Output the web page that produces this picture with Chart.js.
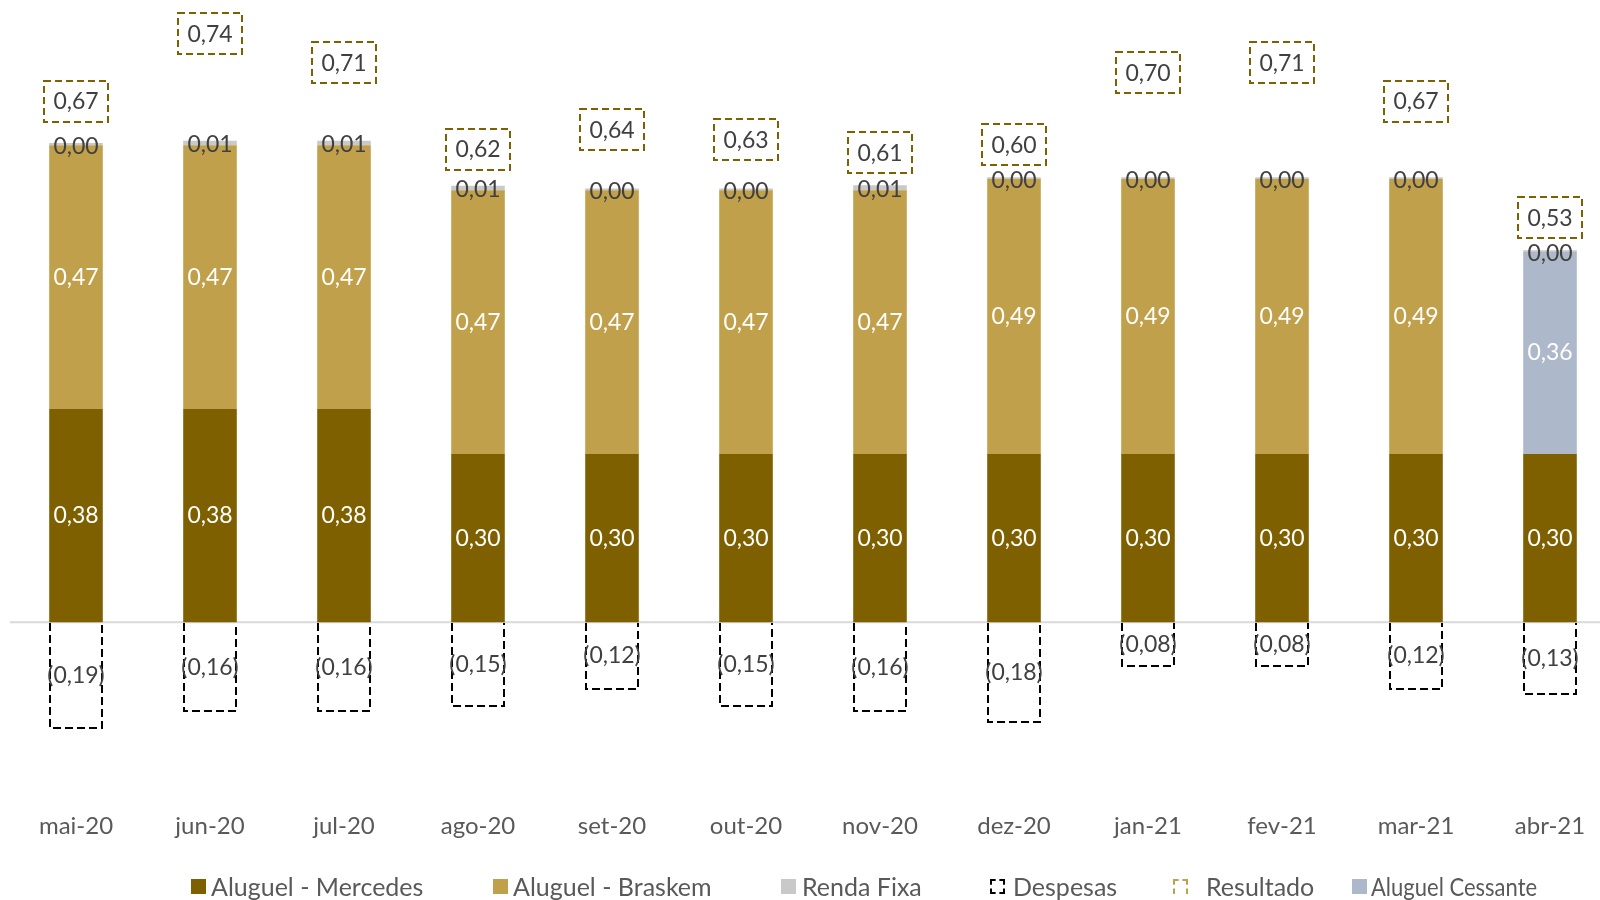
<!DOCTYPE html>
<html>
<head>
<meta charset="utf-8">
<script src="https://cdn.jsdelivr.net/npm/chart.js@4"></script>
<style>
html,body{margin:0;padding:0;background:#fff;overflow:hidden;}
#wrap{width:1600px;height:900px;position:relative;overflow:hidden;}
#c{position:absolute;left:0;top:0;}
.lg{position:absolute;top:870px;height:32px;display:flex;align-items:center;font-family:Lato,sans-serif;font-size:25px;color:#595959;white-space:nowrap;}
.lg i{display:inline-block;width:15px;height:15px;box-sizing:border-box;flex:none;}
.lg span{display:inline-block;}
</style>
</head>
<body>
<div id="wrap">
<canvas id="c" width="1640" height="900"></canvas>
<div class="lg" style="left:191px"><i style="background:#7F6000;margin-right:5px"></i><span>Aluguel - Mercedes</span></div>
<div class="lg" style="left:493px"><i style="background:#C0A04A;margin-right:5px"></i><span>Aluguel - Braskem</span></div>
<div class="lg" style="left:781px"><i style="background:#C9C9C9;margin-right:6px"></i><span>Renda Fixa</span></div>
<div class="lg" style="left:990px"><i style="border:2px dashed #000;margin-right:8px"></i><span>Despesas</span></div>
<div class="lg" style="left:1173px"><i style="border:2px dashed #C0A04A;border-bottom:none;margin-right:18px"></i><span>Resultado</span></div>
<div class="lg" style="left:1352px"><i style="background:#ADB9CA;margin-right:4px"></i><span style="transform:scaleX(0.88);transform-origin:left center">Aluguel Cessante</span></div>
</div>
<script>
const categories = ['mai-20','jun-20','jul-20','ago-20','set-20','out-20','nov-20','dez-20','jan-21','fev-21','mar-21','abr-21'];
const mercedes = [0.38,0.38,0.38,0.30,0.30,0.30,0.30,0.30,0.30,0.30,0.30,0.30];
const braskem = [0.47,0.47,0.47,0.47,0.47,0.47,0.47,0.49,0.49,0.49,0.49,null];
const rendaFixa = [0.004,0.008,0.008,0.008,0.003,0.003,0.009,0.003,0.003,0.003,0.003,0.003];
const despesas = [-0.19,-0.16,-0.16,-0.15,-0.12,-0.15,-0.16,-0.18,-0.08,-0.08,-0.12,-0.13];
const resultado = [0.67,0.74,0.71,0.62,0.64,0.63,0.61,0.60,0.70,0.71,0.67,0.53];
const cessante = [null,null,null,null,null,null,null,null,null,null,null,0.36];

const FONT = 'Lato';
const fmt = v => {
  const s = Math.abs(v).toFixed(2).replace('.', ',');
  return v < 0 ? '(' + s + ')' : s;
};

const labelPlugin = {
  id: 'valueLabels',
  afterDatasetsDraw(chart) {
    const ctx = chart.ctx;
    ctx.save();
    // dashed outline for Despesas bars
    chart.data.datasets.forEach((ds, di) => {
      if (!ds._dashed) return;
      const meta = chart.getDatasetMeta(di);
      meta.data.forEach(el => {
        const l = Math.round(el.x - el.width / 2) + 1, r = Math.round(el.x + el.width / 2) - 1;
        const b = Math.round(el.y) - 1, t = Math.round(el.base) + 1;
        ctx.save();
        ctx.setLineDash([8, 4]);
        ctx.lineWidth = 2;
        ctx.strokeStyle = '#000';
        ctx.beginPath();
        ctx.moveTo(l, t); ctx.lineTo(l, b); ctx.lineTo(r, b); ctx.lineTo(r, t);
        ctx.stroke();
        ctx.restore();
      });
    });
    ctx.font = '23px ' + FONT;
    ctx.textAlign = 'center';
    ctx.textBaseline = 'middle';
    const stackTop = categories.map((_, i) => {
      let m = Infinity;
      chart.data.datasets.forEach((ds, di) => {
        if (ds.type === 'line' || ds._dashed) return;
        const el = chart.getDatasetMeta(di).data[i];
        if (ds.data[i] != null && el) m = Math.min(m, el.y);
      });
      return m;
    });
    chart.data.datasets.forEach((ds, di) => {
      const meta = chart.getDatasetMeta(di);
      if (!ds._label) return;
      meta.data.forEach((el, i) => {
        const v = ds.data[i];
        if (v === null || v === undefined) return;
        const txt = fmt(v);
        let x, y;
        if (ds.type === 'line') { x = el.x; y = el.y; }
        else { const p = el.getCenterPoint(); x = p.x; y = p.y; }
        if (ds._label === 'box') {
          const w = ctx.measureText(txt).width + 19;
          const h = 41;
          y = Math.min(y, stackTop[i] - 12 - h / 2);
          ctx.save();
          ctx.setLineDash([7, 4]);
          ctx.lineWidth = 2;
          ctx.strokeStyle = '#7F6000';
          ctx.strokeRect(Math.round(x - w / 2), Math.round(y - h / 2), Math.round(w), h);
          ctx.restore();
          ctx.fillStyle = '#404040';
          ctx.fillText(txt, x, y + 1);
        } else {
          ctx.fillStyle = ds._label === 'white' ? '#FFFFFF' : '#404040';
          ctx.fillText(txt, x + (ds._dx || 0), y + (ds._dy || 0));
        }
      });
    });
    ctx.restore();
  }
};

const zeroLine = {
  id: 'zeroLine',
  beforeDatasetsDraw(chart) {
    const y = chart.scales.y.getPixelForValue(0);
    const ctx = chart.ctx;
    ctx.save();
    ctx.strokeStyle = '#D9D9D9';
    ctx.lineWidth = 2;
    ctx.beginPath();
    ctx.moveTo(chart.chartArea.left + 1, y);
    ctx.lineTo(chart.chartArea.right, y);
    ctx.stroke();
    ctx.restore();
  }
};

new Chart(document.getElementById('c'), {
  type: 'bar',
  data: {
    labels: categories,
    datasets: [
      { label: 'Aluguel - Mercedes', data: mercedes, backgroundColor: '#7F6000', _label: 'white', order: 2 },
      { label: 'Aluguel - Braskem', data: braskem, backgroundColor: '#C0A04A', _label: 'white', order: 2 },
      { label: 'Aluguel Cessante', data: cessante, backgroundColor: '#ADB9CA', _label: 'white', order: 2 },
      { label: 'Renda Fixa', data: rendaFixa, backgroundColor: '#C9C9C9', _label: 'dark', _dy: 2, order: 2 },
      { label: 'Despesas', data: despesas, backgroundColor: 'rgba(0,0,0,0)', borderWidth: 0, _dashed: true, _label: 'dark', order: 2 },
      { type: 'line', label: 'Resultado', data: resultado, yAxisID: 'y2', showLine: false, pointRadius: 0, borderColor: '#C0A04A', backgroundColor: 'rgba(0,0,0,0)', _label: 'box', order: 1 }
    ]
  },
  options: {
    responsive: false,
    animation: false,
    devicePixelRatio: 1,
    layout: { padding: { left: 9, right: 23, top: 5, bottom: 59.5 } },
    datasets: { bar: { barPercentage: 0.4, categoryPercentage: 1.0 } },
    scales: {
      x: {
        stacked: true,
        grid: { display: false, drawTicks: true, tickLength: 21 },
        border: { display: false },
        ticks: { font: { family: FONT, size: 24 }, color: '#595959', padding: 0 }
      },
      y: {
        stacked: true,
        min: -0.3, max: 1.1,
        display: false
      },
      y2: {
        min: -0.0477, max: 0.7699,
        display: false
      }
    },
    plugins: {
      tooltip: { enabled: false },
      legend: { display: false }
    }
  },
  plugins: [labelPlugin, zeroLine]
});
</script>
</body>
</html>
